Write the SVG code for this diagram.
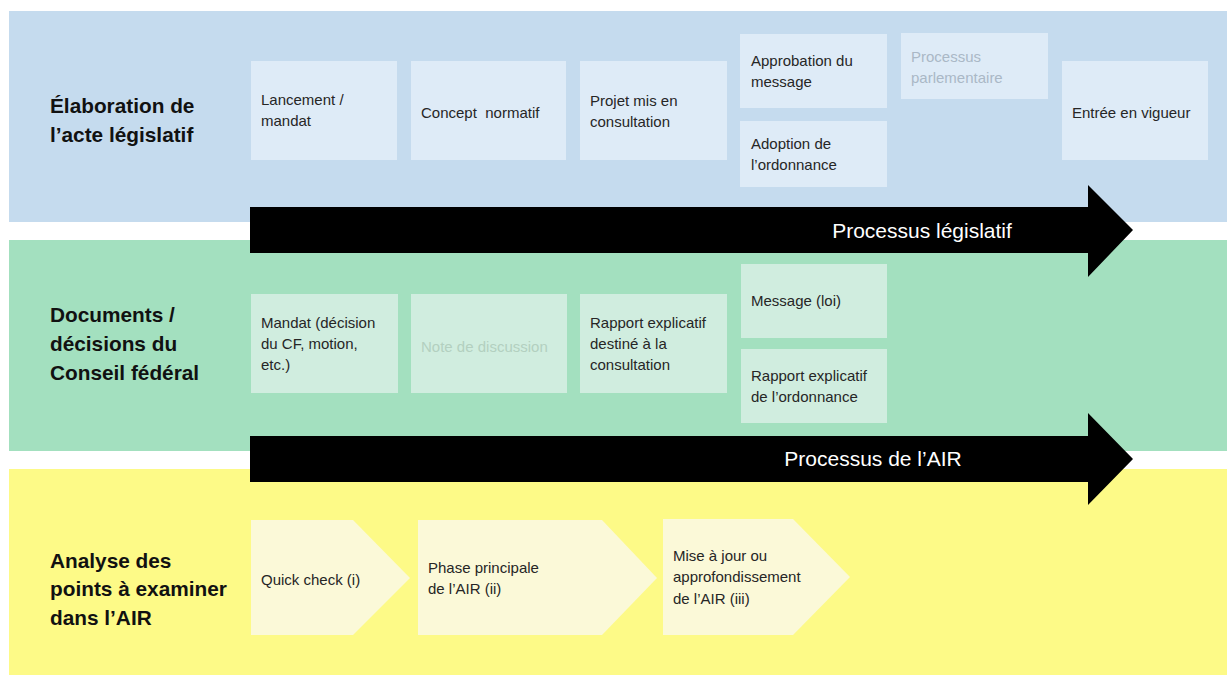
<svg xmlns="http://www.w3.org/2000/svg" width="1227" height="675" viewBox="0 0 1227 675">
<style>
.lbl{font-family:"Liberation Sans",Arial,sans-serif;font-weight:bold;font-size:20.8px;fill:#111}
.t{font-family:"Liberation Sans",Arial,sans-serif;font-size:15px;fill:#262626}
.g1{fill:#aab8c6}
.g2{fill:#b3d0c0}
.bb{fill:#deebf7}
.gb{fill:#d0eddf}
.yb{fill:#fbf9d8}
.arr{fill:#000}
.at{font-family:"Liberation Sans",Arial,sans-serif;font-size:21px;fill:#fff;text-anchor:middle}
</style>
<rect width="1227" height="675" fill="#fff"/>
<g id="bands">
<rect x="9" y="11" width="1218" height="211" fill="#c5dbee"/>
<rect x="9" y="240" width="1218" height="211" fill="#a3e0bf"/>
<rect x="9" y="469" width="1218" height="206" fill="#fdfa87"/>
</g>
<g id="lane-labels">
<text class="lbl" x="50" y="113">Élaboration de</text>
<text class="lbl" x="50" y="142">l’acte législatif</text>
<text class="lbl" x="50" y="322">Documents /</text>
<text class="lbl" x="50" y="351">décisions du</text>
<text class="lbl" x="50" y="380">Conseil fédéral</text>
<text class="lbl" x="50" y="568">Analyse des</text>
<text class="lbl" x="50" y="596">points à examiner</text>
<text class="lbl" x="50" y="625">dans l’AIR</text>
</g>
<g id="n-lancement"><rect class="bb" x="251" y="61" width="146" height="99"/><text class="t" x="261" y="105">Lancement /</text><text class="t" x="261" y="126">mandat</text></g>
<g id="n-concept"><rect class="bb" x="411" y="61" width="155" height="99"/><text class="t" x="421" y="118" xml:space="preserve">Concept  normatif</text></g>
<g id="n-projet"><rect class="bb" x="580" y="61" width="147" height="99"/><text class="t" x="590" y="106">Projet mis en</text><text class="t" x="590" y="127">consultation</text></g>
<g id="n-approbation"><rect class="bb" x="740" y="34" width="147" height="74"/><text class="t" x="751" y="66">Approbation du</text><text class="t" x="751" y="87">message</text></g>
<g id="n-adoption"><rect class="bb" x="740" y="121" width="147" height="66"/><text class="t" x="751" y="149">Adoption de</text><text class="t" x="751" y="170">l’ordonnance</text></g>
<g id="n-parlementaire"><rect class="bb" x="901" y="33" width="147" height="66"/><text class="t g1" x="911" y="62">Processus</text><text class="t g1" x="911" y="83">parlementaire</text></g>
<g id="n-entree"><rect class="bb" x="1062" y="61" width="146" height="99"/><text class="t" x="1072" y="118">Entrée en vigueur</text></g>
<g id="n-mandat"><rect class="gb" x="251" y="294" width="147" height="99"/><text class="t" x="261" y="328">Mandat (décision</text><text class="t" x="261" y="349">du CF, motion,</text><text class="t" x="261" y="370">etc.)</text></g>
<g id="n-note"><rect class="gb" x="411" y="294" width="156" height="99"/><text class="t g2" x="421" y="352">Note de discussion</text></g>
<g id="n-rapport-consult"><rect class="gb" x="580" y="294" width="147" height="99"/><text class="t" x="590" y="328">Rapport explicatif</text><text class="t" x="590" y="349">destiné à la</text><text class="t" x="590" y="370">consultation</text></g>
<g id="n-message"><rect class="gb" x="741" y="264" width="146" height="74"/><text class="t" x="751" y="306">Message (loi)</text></g>
<g id="n-rapport-ord"><rect class="gb" x="741" y="349" width="146" height="74"/><text class="t" x="751" y="381">Rapport explicatif</text><text class="t" x="751" y="402">de l’ordonnance</text></g>
<g id="n-quick"><polygon class="yb" points="251,520 353,520 410,578 353,635 251,635"/><text class="t" x="261" y="585">Quick check (i)</text></g>
<g id="n-phase"><polygon class="yb" points="418,520 602,520 657,578 602,635 418,635"/><text class="t" x="428" y="573">Phase principale</text><text class="t" x="428" y="594">de l’AIR (ii)</text></g>
<g id="n-mise"><polygon class="yb" points="663,519 793,519 850,577 793,635 663,635"/><text class="t" x="673" y="561">Mise à jour ou</text><text class="t" x="673" y="582">approfondissement</text><text class="t" x="673" y="604">de l’AIR (iii)</text></g>
<g id="connectors">
<g id="arrow-legislatif"><polygon class="arr" points="250,207 1088,207 1088,185 1133,230 1088,277 1088,253 250,253"/><text class="at" x="922" y="238">Processus législatif</text></g>
<g id="arrow-air"><polygon class="arr" points="250,436 1088,436 1088,413 1133,459 1088,505 1088,482 250,482"/><text class="at" x="873" y="466">Processus de l’AIR</text></g>
</g>
</svg>
